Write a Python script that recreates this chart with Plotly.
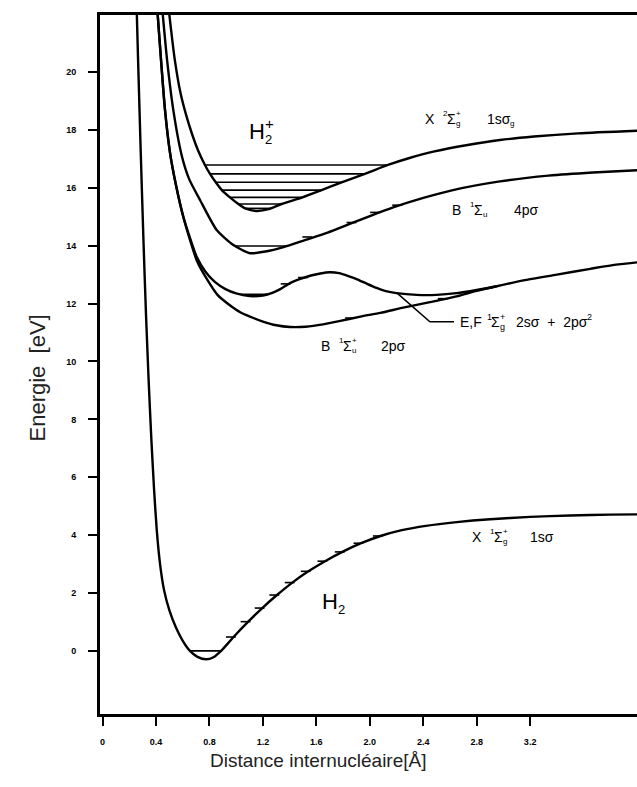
import plotly.graph_objects as go

# ---------------- data ----------------
# Ground state H2  X 1Σg+ 1sσ
h2_x = [0.255, 0.265, 0.285, 0.305, 0.325, 0.345, 0.365, 0.385, 0.405, 0.43, 0.46, 0.5, 0.55, 0.6,
        0.654, 0.71, 0.775, 0.83, 0.887, 0.98, 1.09, 1.195, 1.305, 1.42, 1.54, 1.665, 1.795, 1.935,
        2.08, 2.24, 2.42, 2.65, 2.9, 3.2, 3.5, 3.8, 4.07]
h2_E = [22.2, 20.5, 17.3, 14.3, 11.6, 9.3, 7.3, 5.6, 4.2, 3.0, 2.1, 1.4, 0.8, 0.35,
        0.0, -0.206, -0.29, -0.22, 0.0, 0.48, 1.01, 1.48, 1.93, 2.36, 2.75, 3.1, 3.42, 3.72,
        3.97, 4.17, 4.32, 4.45, 4.55, 4.63, 4.68, 4.71, 4.72]

# H2+  X 2Σg+ 1sσg
h2p_x = [0.499, 0.538, 0.582, 0.626, 0.670, 0.714, 0.766, 0.804, 0.847, 0.892, 0.953, 1.016, 1.067,
         1.15, 1.243, 1.339, 1.496, 1.639, 1.789, 1.963, 2.136, 2.291, 2.475, 2.732, 2.974, 3.228,
         3.559, 4.055]
h2p_E = [22.0, 20.5, 19.3, 18.5, 17.85, 17.3, 16.79, 16.48, 16.19, 15.92, 15.67, 15.44, 15.29,
         15.2, 15.26, 15.44, 15.67, 15.92, 16.19, 16.48, 16.79, 17.02, 17.25, 17.48, 17.65, 17.77,
         17.88, 17.98]

# B 1Σu 4pσ
b4_x = [0.450, 0.483, 0.529, 0.593, 0.648, 0.729, 0.854, 0.979, 1.103, 1.221, 1.354, 1.519, 1.684,
        1.850, 2.015, 2.180, 2.401, 2.622, 2.974, 3.338, 3.669, 4.055]
b4_E = [22.0, 20.4, 18.69, 17.1, 16.3, 15.58, 14.54, 14.02, 13.74, 13.8, 13.95, 14.2, 14.45,
        14.75, 15.05, 15.33, 15.65, 15.92, 16.22, 16.42, 16.53, 16.62]

# E,F 1Σg+ 2sσ + 2pσ²
ef_x = [0.412, 0.467, 0.505, 0.549, 0.604, 0.659, 0.704, 0.77, 0.84, 0.92, 1.0, 1.1, 1.2, 1.27,
        1.33, 1.40, 1.48, 1.56, 1.63, 1.70, 1.77, 1.84, 1.91, 1.98, 2.05, 2.12, 2.2, 2.35, 2.5,
        2.65, 2.8, 2.95]
ef_E = [22.0, 18.69, 17.2, 16.1, 15.0, 14.2, 13.62, 13.1, 12.75, 12.5, 12.35, 12.26, 12.28, 12.37,
        12.5, 12.7, 12.85, 12.97, 13.04, 13.08, 13.05, 12.95, 12.83, 12.68, 12.54, 12.43, 12.36,
        12.3, 12.3, 12.36, 12.47, 12.6]

# B 1Σu+ 2pσ
b2_x = [0.412, 0.467, 0.505, 0.549, 0.604, 0.654, 0.704, 0.78, 0.86, 0.95, 1.03, 1.103, 1.2, 1.3,
        1.403, 1.52, 1.65, 1.78, 1.93, 2.08, 2.25, 2.45, 2.65, 2.8, 2.95, 3.15, 3.4, 3.65, 3.818,
        4.06]
b2_E = [22.0, 18.69, 17.2, 16.1, 15.0, 14.2, 13.5, 12.85, 12.3, 11.95, 11.7, 11.55, 11.38, 11.25,
        11.19, 11.2, 11.28, 11.4, 11.55, 11.68, 11.86, 12.05, 12.25, 12.44, 12.6, 12.8, 13.0, 13.2,
        13.33, 13.45]

# vibrational levels drawn as horizontal lines (energy, left end, right end)
lvl_E = [0.0, 16.79, 16.48, 16.19, 15.92, 15.67, 15.44, 15.29, 13.99, 12.32]
lvl_l = [0.654, 0.766, 0.804, 0.847, 0.892, 0.953, 1.016, 1.067, 0.991, 1.03]
lvl_r = [0.887, 2.136, 1.963, 1.789, 1.639, 1.496, 1.339, 1.27, 1.376, 1.24]

# small level marks on the outer branches (x on curve, energy)
mark_x = [0.98, 1.09, 1.195, 1.305, 1.42, 1.54, 1.665, 1.795, 1.935, 2.08,
          1.552, 1.883, 2.059, 2.225, 1.39, 1.52, 1.872, 2.566]
mark_E = [0.48, 1.01, 1.48, 1.93, 2.36, 2.75, 3.1, 3.42, 3.72, 3.97,
          14.3, 14.8, 15.15, 15.4, 12.68, 12.9, 11.5, 12.17]

x_tickvals = [0, 0.4, 0.8, 1.2, 1.6, 2.0, 2.4, 2.8, 3.2]
x_ticktext = ["0", "0.4", "0.8", "1.2", "1.6", "2.0", "2.4", "2.8", "3.2"]
y_tickvals = [0, 2, 4, 6, 8, 10, 12, 14, 16, 18, 20]
y_ticktext = [str(v) for v in y_tickvals]

FONT = "Liberation Sans, Arial, sans-serif"

fig = go.Figure()


def curve(x, y):
    fig.add_trace(go.Scatter(x=x, y=y, mode="lines",
                             line=dict(color="black", width=2.4, shape="spline", smoothing=0.6),
                             hoverinfo="skip", showlegend=False))


for cx, cy in [(h2_x, h2_E), (h2p_x, h2p_E), (b4_x, b4_E), (ef_x, ef_E), (b2_x, b2_E)]:
    curve(cx, cy)

# vibrational levels
lx, ly = [], []
for e, a, b in zip(lvl_E, lvl_l, lvl_r):
    lx += [a, b, None]
    ly += [e, e, None]
fig.add_trace(go.Scatter(x=lx, y=ly, mode="lines", line=dict(color="black", width=1.6),
                         hoverinfo="skip", showlegend=False))

# small marks (short bars to the left of the curve)
fig.add_trace(go.Scatter(x=[v - 0.02 for v in mark_x], y=mark_E, mode="markers",
                         marker=dict(symbol="line-ew", size=7, line=dict(color="black", width=1.6)),
                         hoverinfo="skip", showlegend=False))

# leader line for the E,F label
fig.add_shape(type="path", path="M 2.2,12.38 L 2.45,11.37 L 2.63,11.37",
              line=dict(color="black", width=1.5), xref="x", yref="y")


def piece(x, y, s, size, xs=0, ys=0):
    fig.add_annotation(x=x, y=y, text=s, showarrow=False, xanchor="left", yanchor="middle",
                       xshift=xs, yshift=ys, font=dict(size=size, family=FONT, color="black"))


def term(x, y, lead, mult, up, low, orb, size=14, gap=45, orb_sub=None):
    small = int(size * 0.62)
    piece(x, y, lead, size)
    w = len(lead) * size * 0.55 + 14
    piece(x, y, mult, small, w - 4, 5)
    piece(x, y, "Σ", size, w)
    if up:
        piece(x, y, up, small, w + 9, 5)
    if low:
        piece(x, y, low, small, w + 9, -5)
    ox = w + gap - 14
    piece(x, y, orb, size, ox)
    if orb_sub:
        piece(x, y, orb_sub, small, ox + 23, -5)


# state labels
term(2.398, 18.38, "X", "2", "+", "g", "1sσ", gap=54, orb_sub="g")
term(2.60, 15.25, "B", "1", None, "u", "4pσ", gap=54)
term(1.62, 10.54, "B", "1", "+", "u", "2pσ", gap=52)
term(2.75, 3.94, "X", "1", "+", "g", "1sσ", gap=50)
# E,F label
piece(2.66, 11.37, "E,F", 14)
piece(2.66, 11.37, "1", 9, 27, 5)
piece(2.66, 11.37, "Σ", 14, 31)
piece(2.66, 11.37, "+", 9, 40, 5)
piece(2.66, 11.37, "g", 9, 40, -5)
piece(2.66, 11.37, "2sσ  +  2pσ", 14, 56)
piece(2.66, 11.37, "2", 9, 127, 5)

# molecule labels
piece(1.081, 17.96, "H", 22)
piece(1.081, 17.96, "2", 13, 16, -8)
piece(1.081, 17.96, "+", 15, 16, 8)
piece(1.63, 1.71, "H", 22)
piece(1.63, 1.71, "2", 13, 16, -8)

# axis titles
fig.add_annotation(xref="paper", yref="paper", x=-0.143, y=0.481, text="Energie  [eV]",
                   textangle=-90, showarrow=False, font=dict(size=22, family=FONT, color="#222"))
fig.add_annotation(xref="paper", yref="paper", x=0.406, y=-0.084, text="Distance internucléaire[Å]",
                   showarrow=False, font=dict(size=19, family=FONT, color="#222"))

fig.update_layout(
    width=637, height=787,
    margin=dict(l=100, r=0, t=15, b=73),
    paper_bgcolor="white", plot_bgcolor="white",
    showlegend=False,
    xaxis=dict(range=[-0.0195, 4.0], tickvals=x_tickvals, ticktext=x_ticktext,
               ticks="outside", ticklen=9, tickwidth=2, tickcolor="black",
               showline=True, linewidth=3, linecolor="black", mirror=True,
               showgrid=False, zeroline=False, ticklabelstandoff=8,
               tickfont=dict(size=9, family=FONT, color="black", weight="bold")),
    yaxis=dict(range=[-2.18, 21.97], tickvals=y_tickvals, ticktext=y_ticktext,
               ticks="outside", ticklen=9, tickwidth=2, tickcolor="black",
               showline=True, linewidth=3, linecolor="black",
               showgrid=False, zeroline=False, ticklabelstandoff=10,
               tickfont=dict(size=9, family=FONT, color="black", weight="bold")),
)

fig.write_html("out.html",
               config={"displayModeBar": False},
               post_script="document.body.style.margin='0';document.body.style.padding='0';"
                           "document.body.style.overflow='hidden';")
